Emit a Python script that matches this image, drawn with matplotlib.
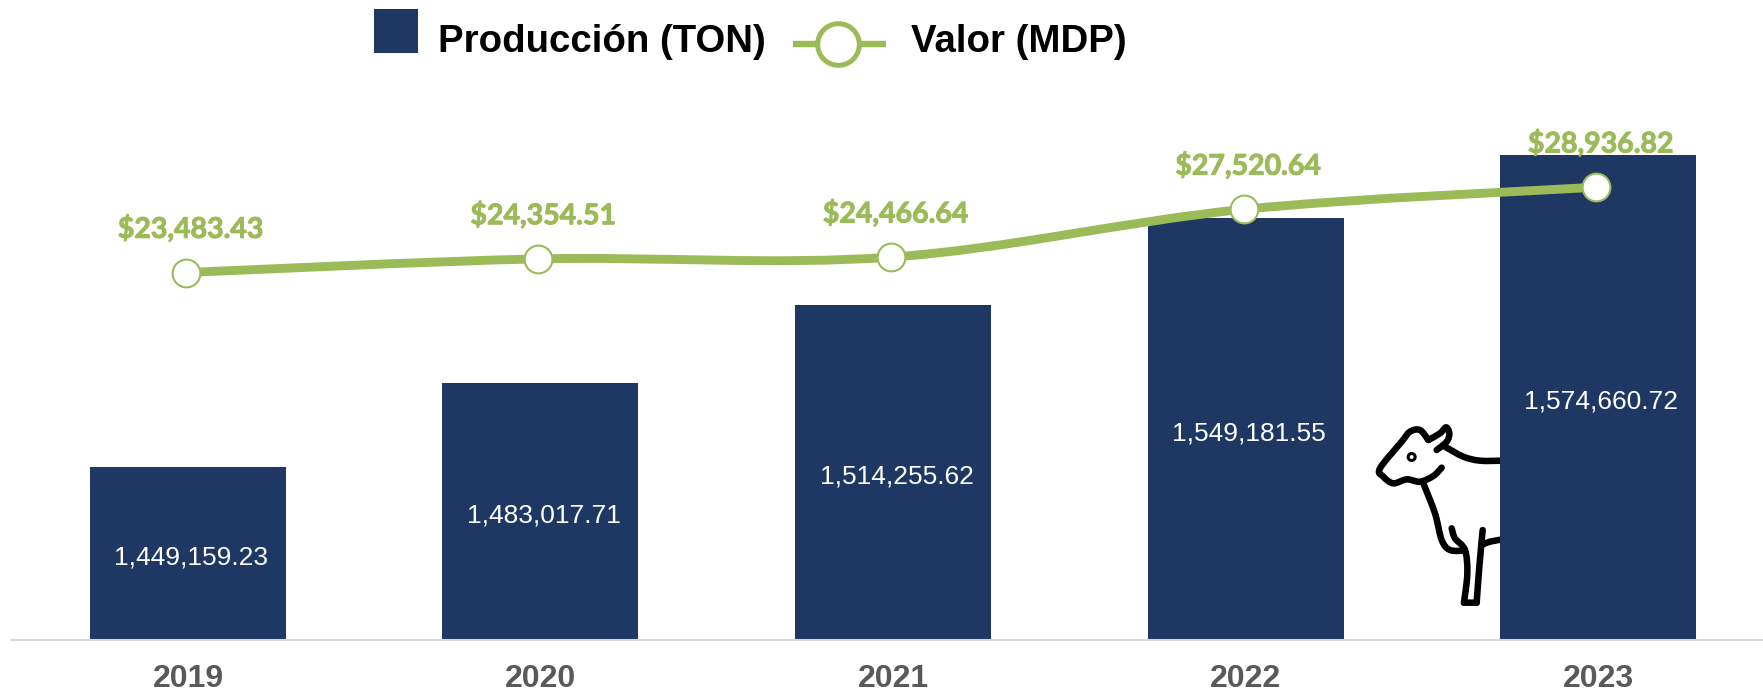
import numpy as np
import matplotlib
matplotlib.use('Agg')
import matplotlib.pyplot as plt
import matplotlib.patheffects as pe
from matplotlib.path import Path
from matplotlib.patches import PathPatch, Rectangle, Circle

years = ['2019', '2020', '2021', '2022', '2023']
produccion = [1449159.23, 1483017.71, 1514255.62, 1549181.55, 1574660.72]
valor = [23483.43, 24354.51, 24466.64, 27520.64, 28936.82]

W, H = 1763, 691
BLUE = '#1E3863'
GREEN = '#9BBB59'
BAR_FLOOR = 1379600

plt.rcParams['font.family'] = ['Liberation Sans', 'DejaVu Sans']


def smooth_path(xs, ys):
    # Catmull-Rom to bezier, same look as the smoothed line in the spreadsheet
    p = np.column_stack([xs, ys]).astype(float)
    verts = [p[0]]
    codes = [Path.MOVETO]
    for i in range(len(p) - 1):
        p0 = p[max(i - 1, 0)]
        p3 = p[min(i + 2, len(p) - 1)]
        verts += [p[i] + (p[i + 1] - p0) / 6, p[i + 1] - (p3 - p[i]) / 6, p[i + 1]]
        codes += [Path.CURVE4] * 3
    return Path(verts, codes)


fig = plt.figure(figsize=(W / 100, H / 100), dpi=100, facecolor='white')

# axes run from the left end of the axis line to the image edge, baseline at y=640
rect = [11 / W, (H - 640) / H, 1 - 11 / W, 640 / H]
ax = fig.add_axes(rect)
x = np.arange(len(years))
bars = ax.bar(x, produccion, width=0.556, color=BLUE, zorder=2)
ax.set_xlim(-0.502, 4.468)
ax.set_ylim(BAR_FLOOR, 1637040)
ax.set_yticks([])
ax.set_xticks(x, years)
ax.tick_params(axis='x', length=0, pad=17.5, labelsize=23, labelcolor='#595959')
for lab in ax.get_xticklabels():
    lab.set_fontweight('bold')
for s in ['top', 'left', 'right']:
    ax.spines[s].set_visible(False)
ax.spines['bottom'].set_color('#D9D9D9')
ax.spines['bottom'].set_linewidth(1.5)

for xi, v in zip(x, produccion):
    ax.annotate(f'{v:,.2f}', (xi, (BAR_FLOOR + v) / 2), xytext=(2.5, -3), textcoords='offset points',
                ha='center', va='center', color='white', fontsize=19, zorder=3)

# the line sits about 2px left of the bar centres in the original, so it gets its own axes
ax2 = fig.add_axes([rect[0] - 2 / W, rect[1], rect[2], rect[3]], sharex=ax)
ax2.set_ylim(0, 40900)
ax2.axis('off')
ax2.add_patch(PathPatch(smooth_path(x, valor), fill=False, edgecolor=GREEN, lw=6.4, capstyle='butt'))
ax2.plot(x, valor, ls='none', marker='o', ms=20, mfc='white', mec=GREEN, mew=1.5, zorder=4)
for xi, v in zip(x, valor):
    ax2.annotate(f'${v:,.2f}', (xi, v), xytext=(3.5, 31.5), textcoords='offset points',
                 ha='center', va='center', color=GREEN, fontsize=20.5, fontweight='bold',
                 family=['Lato', 'DejaVu Sans'],
                 path_effects=[pe.withStroke(linewidth=0.7, foreground=GREEN)])

# overlay in image pixels for the legend and the cow icon
ov = fig.add_axes([0, 0, 1, 1], zorder=10)
ov.set_xlim(0, W)
ov.set_ylim(H, 0)
ov.axis('off')

ov.add_patch(Rectangle((374, 9), 44, 44, color=BLUE, lw=0))
ov.text(438, 52, 'Producción (TON)', fontsize=27.6, fontweight='bold', va='baseline', color='black')
ov.plot([793, 886], [44, 44], color=GREEN, lw=4.6, solid_capstyle='butt')
ov.plot([838], [44], marker='o', ms=30, mfc='white', mec=GREEN, mew=3.6)
ov.text(911, 52, 'Valor (MDP)', fontsize=27.6, fontweight='bold', va='baseline', color='black')

# cow strokes, traced from the icon
cow = [
    ([265, 240, 210, 185, 120, 130, 160, 200, 240, 280, 305],
     [120, 90, 95, 125, 205, 230, 250, 238, 245, 228, 203]),
    ([265, 300, 318, 328, 320, 290], [120, 100, 82, 100, 125, 150]),
    ([315, 370, 420, 490], [140, 170, 182, 182]),
    ([250, 285, 305, 330, 375], [250, 340, 420, 450, 452]),
    ([335, 345, 375, 382, 372], [385, 415, 450, 520, 608]),
    ([372, 410], [608, 608]),
    ([410, 418, 428], [608, 500, 390]),
    ([425, 450, 490], [435, 425, 418]),
]
clip = Rectangle((1340, 400), 160, 230, transform=ov.transData)
for cx, cy in cow:
    path = smooth_path(1340 + np.array(cx) / 3, 400 + np.array(cy) / 3)
    cp = ov.add_patch(PathPatch(path, fill=False, edgecolor='black', lw=4.7, capstyle='round', joinstyle='round'))
    cp.set_clip_path(clip)
ov.add_patch(Circle((1340 + 215 / 3, 400 + 171 / 3), 3.5, fill=False, edgecolor='black', lw=2.2))

fig.savefig('out.png', dpi=100)
